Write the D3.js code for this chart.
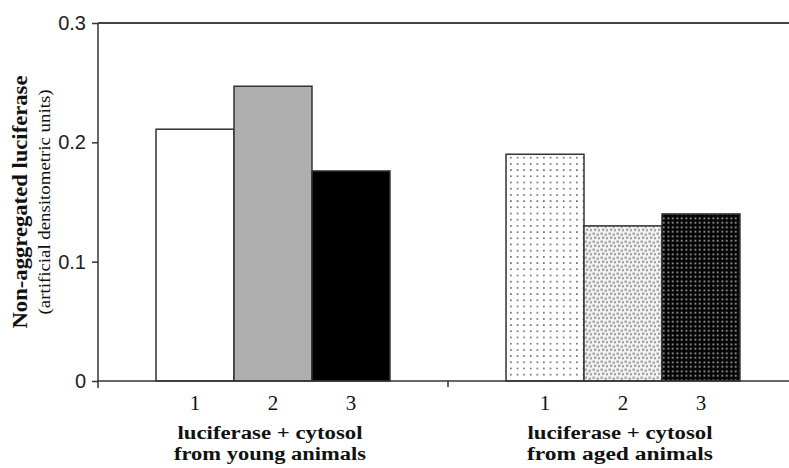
<!DOCTYPE html>
<html lang="en">
<head>
  <meta charset="UTF-8">
  <title>Non-aggregated luciferase</title>
  <style>
    body { margin: 0; background: #fff; }
    svg { display: block; }
    .ytick text { font-family: "Liberation Sans", Arial, sans-serif; font-size: 20px; fill: #222; }
    .serif { font-family: "Liberation Serif", "Times New Roman", serif; fill: #111; }
  </style>
  <script src="https://d3js.org/d3.v7.min.js"></script>
</head>
<body>
  <svg id="chart" width="789" height="468"></svg>
  <script>
    // data
    const groups = ["young", "aged"];
    const groupLines = {
      young: ["luciferase + cytosol", "from young animals"],
      aged: ["luciferase + cytosol", "from aged animals"]
    };
    const lanes = ["1", "2", "3"];
    const youngValues = [0.211, 0.247, 0.176];
    const agedValues = [0.190, 0.130, 0.140];
    const yTicks = [0, 0.1, 0.2, 0.3];

    const rows = [];
    groups.forEach((g, gi) => {
      const vals = gi === 0 ? youngValues : agedValues;
      lanes.forEach((l, li) => rows.push({group: g, lane: l, value: vals[li], style: g + li}));
    });

    const width = 789, height = 468;
    const margin = {top: 23, left: 98, bottom: 86};
    const svg = d3.select("#chart");

    const x0 = d3.scaleBand().domain(groups).range([margin.left, margin.left + 700]);
    const x1 = d3.scaleBand().domain(lanes).range([0, x0.bandwidth()]).paddingOuter(0.744);
    const y = d3.scaleLinear().domain([0, 0.3]).range([height - margin.bottom - 1, margin.top]);

    // fill patterns
    const defs = svg.append("defs");
    const p1 = defs.append("pattern").attr("id", "aged0").attr("patternUnits", "userSpaceOnUse")
      .attr("width", 6.6).attr("height", 6.2);
    p1.append("rect").attr("width", 6.6).attr("height", 6.2).attr("fill", "#fff");
    p1.append("rect").attr("x", 2).attr("y", 2).attr("width", 1.4).attr("height", 1.4).attr("fill", "#333");

    const p2 = defs.append("pattern").attr("id", "aged1").attr("patternUnits", "userSpaceOnUse")
      .attr("width", 8).attr("height", 8);
    p2.append("rect").attr("width", 8).attr("height", 8).attr("fill", "#f4f4f4");
    [[0.5, 0.5], [4.5, 1.5], [2, 4.5], [6, 5]].forEach(([a, b]) =>
      p2.append("rect").attr("x", a).attr("y", b).attr("width", 2.4).attr("height", 2.4).attr("fill", "#a8a8a8"));

    const p3 = defs.append("pattern").attr("id", "aged2").attr("patternUnits", "userSpaceOnUse")
      .attr("width", 4.5).attr("height", 4.5);
    p3.append("rect").attr("width", 4.5).attr("height", 4.5).attr("fill", "#050505");
    p3.append("rect").attr("x", 1.5).attr("y", 1.5).attr("width", 1.6).attr("height", 1.6).attr("fill", "#c4c4c4");

    const fills = {young0: "#fff", young1: "#afafaf", young2: "#000",
      aged0: "url(#aged0)", aged1: "url(#aged1)", aged2: "url(#aged2)"};

    // top border line
    svg.append("line")
      .attr("x1", margin.left).attr("x2", width)
      .attr("y1", y(0.3)).attr("y2", y(0.3))
      .attr("stroke", "#444").attr("stroke-width", 2);

    // bars
    svg.append("g").selectAll("rect")
      .data(rows)
      .join("rect")
      .attr("x", d => x0(d.group) + x1(d.lane))
      .attr("width", x1.bandwidth())
      .attr("y", d => y(d.value))
      .attr("height", d => y(0) - y(d.value))
      .attr("fill", d => fills[d.style])
      .attr("stroke", "#333")
      .attr("stroke-width", 1.5);

    // y axis
    const yAxis = svg.append("g")
      .attr("class", "ytick")
      .attr("transform", `translate(${margin.left},0)`)
      .call(d3.axisLeft(y).tickValues(yTicks).tickSize(6).tickPadding(6)
        .tickFormat(d => d === 0 ? "0" : d3.format(".1f")(d)));
    yAxis.select(".domain").remove();
    yAxis.selectAll(".tick line").attr("stroke", "#333").attr("stroke-width", 1.5);
    svg.append("line")
      .attr("x1", margin.left).attr("x2", margin.left)
      .attr("y1", y(0.3)).attr("y2", y(0) + 7)
      .attr("stroke", "#333").attr("stroke-width", 1.5);

    // x axis
    svg.append("line")
      .attr("x1", margin.left).attr("x2", width)
      .attr("y1", y(0)).attr("y2", y(0))
      .attr("stroke", "#333").attr("stroke-width", 1.5);
    svg.append("g").selectAll("line")
      .data(groups.slice(1))
      .join("line")
      .attr("x1", d => x0(d)).attr("x2", d => x0(d))
      .attr("y1", y(0)).attr("y2", y(0) + 6)
      .attr("stroke", "#333").attr("stroke-width", 1.5);

    // lane numbers
    svg.append("g").selectAll("text")
      .data(rows)
      .join("text")
      .attr("class", "serif")
      .attr("x", d => x0(d.group) + x1(d.lane) + x1.bandwidth() / 2)
      .attr("y", 410)
      .attr("text-anchor", "middle")
      .attr("font-size", 21)
      .text(d => d.lane);

    // group labels (the original type is a little wide, so stretch to its width)
    const labelWidths = {young: [185, 192], aged: [185, 186]};
    groups.forEach(g => {
      groupLines[g].forEach((t, i) => {
        svg.append("text")
          .attr("class", "serif")
          .attr("x", x0(g) + x0.bandwidth() / 2 - 3)
          .attr("y", 439 + i * 21)
          .attr("text-anchor", "middle")
          .attr("font-size", 18)
          .attr("font-weight", "bold")
          .attr("textLength", labelWidths[g][i])
          .attr("lengthAdjust", "spacingAndGlyphs")
          .text(t);
      });
    });

    // y label
    const yc = (y(0) + y(0.3)) / 2;
    svg.append("text")
      .attr("class", "serif")
      .attr("transform", `translate(27,${yc}) rotate(-90)`)
      .attr("text-anchor", "middle")
      .attr("font-size", 22)
      .attr("font-weight", "bold")
      .attr("textLength", 253)
      .attr("lengthAdjust", "spacingAndGlyphs")
      .text("Non-aggregated luciferase");
    svg.append("text")
      .attr("class", "serif")
      .attr("transform", `translate(50,${yc}) rotate(-90)`)
      .attr("text-anchor", "middle")
      .attr("font-size", 16)
      .attr("textLength", 225)
      .attr("lengthAdjust", "spacingAndGlyphs")
      .text("(artificial densitometric units)");
  </script>
</body>
</html>
